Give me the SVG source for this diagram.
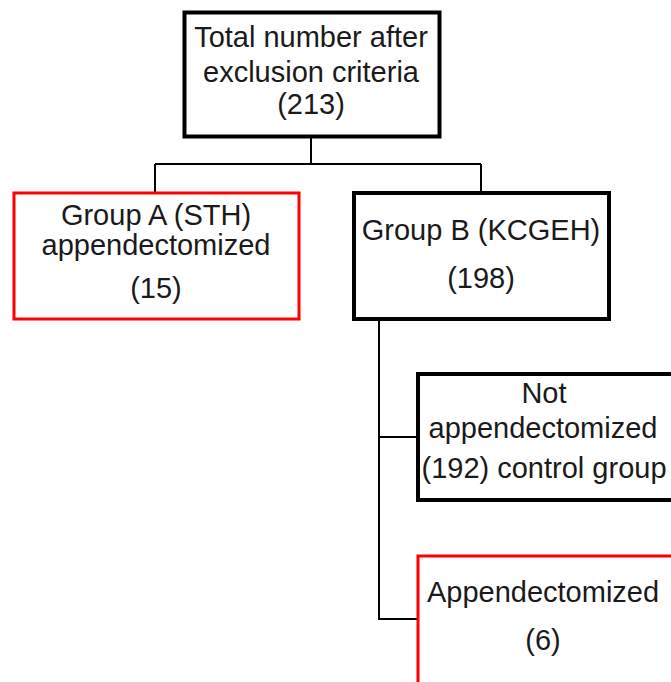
<svg xmlns="http://www.w3.org/2000/svg" width="671" height="682" viewBox="0 0 671 682">
<style>
.bk{fill:#fff;stroke:#000;stroke-width:4}
.rd{fill:#fff;stroke:#f00;stroke-width:3}
.cn{fill:none;stroke:#000;stroke-width:2}
text{font-family:"Liberation Sans",Arial,sans-serif;font-size:29px;fill:#1a1a1a;text-anchor:middle}
</style>
<rect width="671" height="682" fill="#fff"/>
<g id="connectors">
<path class="cn" d="M311 138V164M155 164H481M155 164V192M481 164V192"/>
<path class="cn" d="M379 320V619H417M379 437H417"/>
</g>
<g id="total">
<rect class="bk" x="184.5" y="12.5" width="255" height="124"/>
<text x="311" y="47">Total number after</text>
<text x="311" y="82">exclusion criteria</text>
<text x="311" y="114">(213)</text>
</g>
<g id="groupA">
<rect class="rd" x="14" y="193" width="285" height="126"/>
<text x="156" y="225">Group A (STH)</text>
<text x="156" y="255">appendectomized</text>
<text x="156" y="298">(15)</text>
</g>
<g id="groupB">
<rect class="bk" x="354" y="193" width="255" height="126"/>
<text x="481" y="240">Group B (KCGEH)</text>
<text x="481" y="288">(198)</text>
</g>
<g id="notAppendectomized">
<rect class="bk" x="418" y="374" width="280" height="126"/>
<text x="544" y="403">Not</text>
<text x="543" y="438">appendectomized</text>
<text x="544" y="478">(192) control group</text>
</g>
<g id="appendectomized">
<rect class="rd" x="418" y="556" width="280" height="140"/>
<text x="543" y="602">Appendectomized</text>
<text x="543" y="650">(6)</text>
</g>
</svg>
